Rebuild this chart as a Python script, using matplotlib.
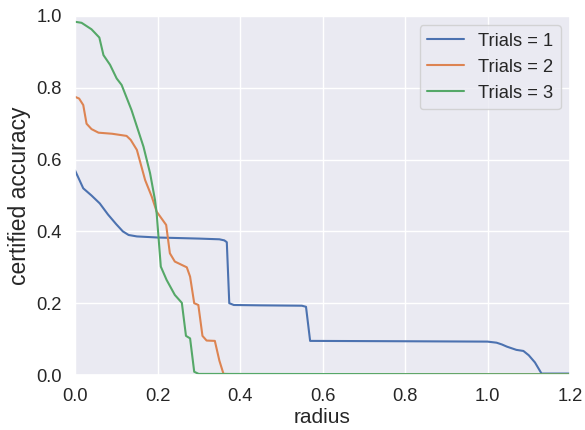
import numpy as np
import matplotlib
matplotlib.use('Agg')
import matplotlib.pyplot as plt
import seaborn as sns

# radius / certified accuracy
r1 = [0.0, 0.01, 0.02, 0.04, 0.06, 0.08, 0.10, 0.116, 0.13, 0.15, 0.20, 0.30,
      0.35, 0.362, 0.368, 0.374, 0.385, 0.45, 0.55, 0.56, 0.57, 0.80, 1.00,
      1.022, 1.035, 1.047, 1.07, 1.087, 1.10, 1.115, 1.131, 1.20]
acc1 = [0.57, 0.545, 0.52, 0.50, 0.478, 0.447, 0.42, 0.40, 0.39, 0.386, 0.383, 0.380,
        0.378, 0.375, 0.37, 0.20, 0.195, 0.194, 0.193, 0.19, 0.095, 0.094, 0.093,
        0.09, 0.085, 0.079, 0.07, 0.067, 0.055, 0.035, 0.004, 0.004]

r2 = [0.0, 0.01, 0.02, 0.028, 0.04, 0.057, 0.09, 0.125, 0.135, 0.15, 0.17, 0.186,
      0.198, 0.221, 0.230, 0.242, 0.26, 0.271, 0.279, 0.289, 0.299, 0.309, 0.319,
      0.339, 0.35, 0.36, 0.40, 1.20]
acc2 = [0.775, 0.77, 0.752, 0.70, 0.685, 0.675, 0.672, 0.666, 0.655, 0.627, 0.543, 0.497,
        0.455, 0.418, 0.339, 0.316, 0.306, 0.30, 0.274, 0.20, 0.195, 0.109, 0.096,
        0.095, 0.04, 0.003, 0.002, 0.002]

r3 = [0.0, 0.016, 0.04, 0.059, 0.069, 0.085, 0.101, 0.113, 0.137, 0.166, 0.182,
      0.194, 0.198, 0.208, 0.222, 0.242, 0.259, 0.269, 0.279, 0.289, 0.30, 1.20]
acc3 = [0.984, 0.981, 0.963, 0.94, 0.891, 0.864, 0.826, 0.808, 0.738, 0.636, 0.562,
        0.487, 0.45, 0.302, 0.265, 0.223, 0.201, 0.109, 0.102, 0.009, 0.003, 0.002]

labels = ['Trials = 1', 'Trials = 2', 'Trials = 3']

sns.set(font_scale=1.2)
plt.rcParams['font.family'] = ['Liberation Sans', 'DejaVu Sans']

fig, ax = plt.subplots(figsize=(5.85, 4.3), dpi=100)
for r, a, lab in zip((r1, r2, r3), (acc1, acc2, acc3), labels):
    ax.plot(r, a, label=lab)

ax.set_xlim(0, 1.2)
ax.set_ylim(0, 1.0)
ax.set_xlabel('radius', fontsize=15, labelpad=2)
ax.set_ylabel('certified accuracy', fontsize=16.5)
ax.legend(loc='upper right')

fig.subplots_adjust(left=75/585, right=570/585, bottom=1-375/430, top=1-16/430)
fig.savefig('out.png')
